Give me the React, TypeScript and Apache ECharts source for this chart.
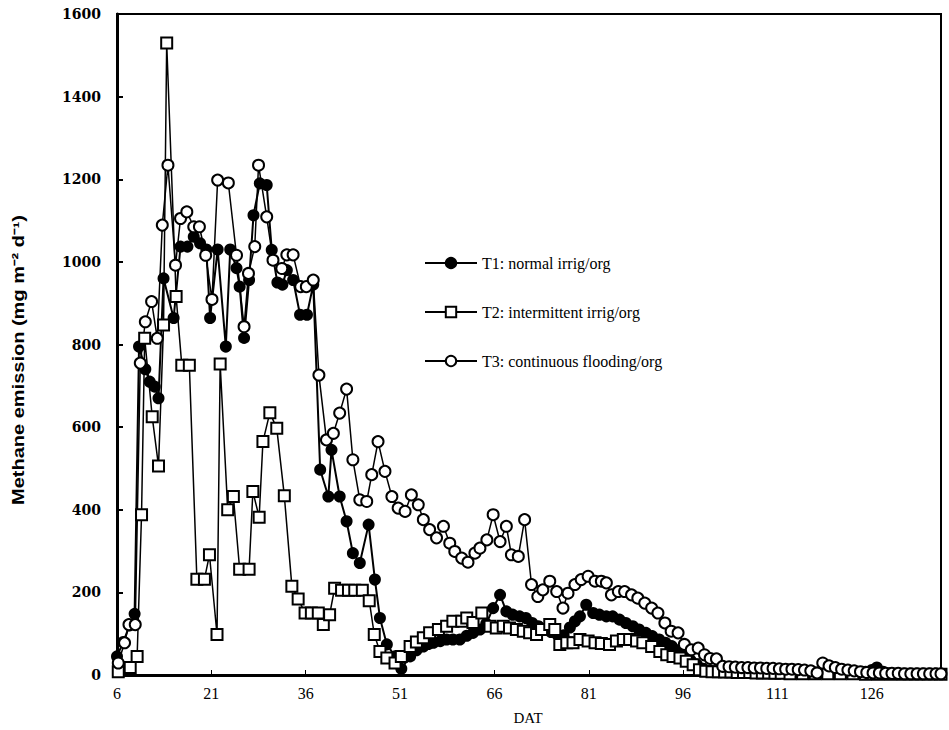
import React, { useEffect, useRef } from "react";
import * as echarts from "echarts";

// Days after transplanting (DAT) tick labels
const xTicks = [6, 21, 36, 51, 66, 81, 96, 111, 126];
const yTicks = [0, 200, 400, 600, 800, 1000, 1200, 1400, 1600];

const seriesNames = [
  "T1: normal irrig/org",
  "T2: intermittent irrig/org",
  "T3: continuous flooding/org",
];

// T1: normal irrig/org  [DAT, mg m-2 d-1]
const t1Data = [
  [6, 45], [7, 80], [8, 120], [8.8, 148], [9.5, 795], [10.5, 740], [11.2, 710], [12, 698],
  [12.6, 670], [13.4, 960], [15, 864], [16.1, 1037], [17.2, 1037], [18.2, 1061], [19.2, 1045],
  [20.2, 1030], [20.8, 864], [22, 1030], [23.3, 795], [24, 1030], [25, 985], [25.5, 940],
  [26.2, 816], [27, 956], [27.7, 1113], [28.7, 1190], [29.8, 1186], [30.6, 1029], [31.5, 950],
  [32.3, 945], [33, 980], [34, 956], [35.1, 872], [36.2, 872], [37.2, 945], [38.3, 497],
  [39.6, 432], [40.1, 545], [41.4, 432], [42.5, 372], [43.5, 295], [44.6, 271], [46, 364],
  [47, 231], [47.8, 138], [48.9, 74], [50.2, 45], [51.2, 15], [52.6, 45], [53.6, 60],
  [54.7, 69], [55.5, 75], [56.3, 78], [57.4, 82], [58.4, 86], [59.4, 86], [60.5, 86],
  [61.6, 95], [62.6, 102], [63.7, 110], [64.7, 124], [65.8, 162], [66.9, 194], [67.9, 154],
  [68.9, 146], [70, 142], [71, 138], [72, 126], [73, 118], [74, 110], [75, 104], [76, 98],
  [77, 96], [78, 115], [78.8, 130], [79.6, 142], [80.6, 170], [81.7, 150], [82.7, 146],
  [83.8, 142], [84.8, 142], [85.9, 134], [86.9, 126], [88, 118], [89, 110], [90.1, 102],
  [91.1, 94], [92.2, 86], [93.2, 78], [94.2, 70], [95.2, 60], [96.2, 48], [97.2, 35],
  [98.2, 25], [99.2, 15], [100.2, 10], [101, 8], [102, 7], [103, 7], [104, 6], [105, 6],
  [106, 6], [107, 5], [108, 5], [109, 5], [110, 5], [111, 5], [112, 4], [113, 4], [114, 4],
  [115, 4], [116, 4], [117, 4], [118, 5], [119, 5], [120, 5], [121, 5], [122, 5], [123, 5],
  [124, 6], [125, 8], [126, 12], [126.8, 18], [127.8, 8], [128.8, 4], [129.8, 3], [131, 3],
  [132, 3], [133, 3], [134, 3], [135, 3], [136, 3], [137, 3],
];

// T2: intermittent irrig/org
const t2Data = [
  [6.2, 8], [8.1, 18], [9.2, 45], [9.9, 388], [10.4, 815], [11.6, 625], [12.6, 506],
  [13.4, 847], [13.9, 1530], [15.4, 916], [16.3, 750], [17.5, 750], [18.7, 232], [19.9, 232],
  [20.7, 291], [21.9, 98], [22.4, 753], [23.6, 400], [24.5, 432], [25.5, 256], [27, 256],
  [27.6, 444], [28.6, 382], [29.2, 565], [30.3, 635], [31.4, 597], [32.6, 434], [33.8, 215],
  [34.8, 184], [35.9, 150], [36.9, 150], [38, 150], [38.8, 122], [39.8, 146], [40.6, 210],
  [41.7, 205], [42.8, 205], [43.8, 205], [45, 205], [46.1, 180], [46.9, 98], [47.8, 57],
  [48.9, 41], [50.2, 29], [51.2, 45], [52.6, 69], [53.6, 80], [54.7, 90], [55.7, 102],
  [57.1, 110], [58.4, 118], [59.4, 130], [60.8, 130], [61.6, 138], [62.6, 127], [64, 150],
  [65.3, 118], [66.3, 114], [67.4, 118], [68.4, 114], [69.5, 110], [70.6, 106], [71.6, 102],
  [72.7, 98], [73.5, 110], [74.8, 122], [75.6, 110], [76.4, 74], [77.5, 78], [78.5, 78],
  [79.6, 86], [80.9, 82], [82, 78], [83, 76], [84.3, 74], [85.4, 82], [86.5, 86], [87.5, 86],
  [88.6, 82], [89.6, 78], [91, 69], [92.3, 57], [93.4, 49], [94.4, 45], [95.5, 41],
  [96.5, 33], [97.6, 25], [98.6, 13], [99.6, 9], [100.6, 8], [101.6, 8], [102.6, 7],
  [103.6, 7], [104.6, 6], [105.6, 6], [106.6, 6], [107.6, 5], [108.6, 5], [109.6, 5],
  [110.6, 4], [111.6, 4], [113, 3], [115, 3], [117, 3], [119, 3], [121, 3], [123, 3],
  [125, 2], [127, 2], [129, 2], [131, 2], [133, 2], [135, 2], [137, 2],
];

// T3: continuous flooding/org
const t3Data = [
  [6.2, 29], [7.2, 78], [7.9, 122], [8.9, 122], [9.7, 755], [10.5, 855], [11.5, 904],
  [12.4, 815], [13.2, 1089], [14.1, 1234], [15.3, 992], [16.1, 1105], [17.1, 1121],
  [18.2, 1085], [19.1, 1085], [20.1, 1016], [21.1, 909], [22, 1198], [23.7, 1191],
  [25, 1016], [26.2, 843], [26.9, 972], [27.9, 1037], [28.5, 1234], [29.8, 1109],
  [30.8, 1004], [32.2, 984], [33, 1017], [34, 1017], [35.2, 940], [36.1, 940], [37.2, 956],
  [38.1, 726], [39.3, 569], [40.4, 585], [41.4, 634], [42.5, 692], [43.5, 521], [44.6, 424],
  [45.7, 420], [46.5, 485], [47.5, 565], [48.6, 493], [49.7, 432], [50.7, 404], [51.8, 396],
  [52.8, 436], [53.9, 412], [54.7, 376], [55.7, 352], [56.8, 332], [57.9, 360], [58.9, 319],
  [59.7, 299], [60.8, 283], [61.8, 273], [62.9, 295], [63.7, 307], [64.8, 327], [65.8, 388],
  [66.9, 323], [67.9, 360], [68.7, 291], [69.8, 287], [70.8, 376], [71.9, 219], [72.9, 190],
  [73.7, 206], [74.8, 227], [75.9, 202], [76.9, 162], [77.7, 198], [78.8, 219], [79.8, 231],
  [80.9, 239], [82, 227], [83, 227], [83.8, 223], [84.6, 194], [85.7, 202], [86.7, 202],
  [87.8, 194], [88.8, 186], [89.9, 174], [91, 162], [92, 150], [93.1, 126], [94.1, 106],
  [95.2, 102], [96.2, 74], [97.3, 61], [98.4, 65], [99.4, 49], [100.3, 40], [101.3, 39],
  [102.3, 21], [103.3, 20], [104.3, 19], [105.3, 18], [106.3, 18], [107.3, 17], [108.3, 17],
  [109.3, 16], [110.3, 16], [111.3, 15], [112.3, 14], [113.3, 14], [114.3, 13], [115.3, 12],
  [116.3, 10], [117.3, 5], [118.2, 29], [119.2, 22], [120.2, 18], [121.2, 14], [122.2, 12],
  [123.2, 10], [124.2, 8], [125.2, 6], [126.2, 5], [127.2, 5], [128.2, 4], [129.2, 4],
  [130.2, 4], [131.2, 3], [132.2, 3], [133.2, 3], [134.2, 3], [135.2, 3], [136.2, 3], [137, 3],
];

const serif = "'Liberation Serif', 'Times New Roman', serif";
const boldSerif = "'DejaVu Serif', 'Liberation Serif', serif";

export default function App() {
  const ref = useRef<HTMLDivElement>(null);
  useEffect(() => {
    if (!ref.current) return;
    const chart = echarts.init(ref.current, undefined, { renderer: "svg" });
    const mk = (name: string, data: number[][], symbol: string, filled: boolean, lw: number, size: number) => ({
      name,
      type: "line",
      data,
      symbol,
      symbolSize: size,
      showAllSymbol: true,
      clip: false,
      lineStyle: { color: "#000", width: lw },
      itemStyle: { color: filled ? "#000" : "#fff", borderColor: "#000", borderWidth: 2 },
      emphasis: { disabled: true },
    });
    chart.setOption({
      animation: false,
      backgroundColor: "#fff",
      grid: {
        left: 117, right: 8, top: 14, bottom: 55,
        show: true, borderColor: "#000", borderWidth: 2, backgroundColor: "transparent",
      },
      legend: {
        orient: "vertical",
        left: 424,
        top: 255,
        padding: 0,
        itemWidth: 52,
        itemHeight: 13,
        itemGap: 33,
        data: seriesNames,
        textStyle: { fontFamily: serif, fontSize: 16, color: "#000" },
      },
      xAxis: {
        type: "value",
        min: 6,
        max: 137,
        interval: 15,
        axisLine: { show: true, lineStyle: { color: "#000", width: 3 } },
        axisTick: { show: true, inside: true, length: 5, lineStyle: { color: "#000", width: 1 } },
        splitLine: { show: false },
        axisLabel: {
          showMaxLabel: false,
          margin: 10,
          fontFamily: serif,
          fontSize: 16,
          color: "#000",
          formatter: (v: number) => (xTicks.includes(v) ? String(v) : ""),
        },
      },
      yAxis: {
        type: "value",
        min: 0,
        max: 1600,
        interval: 200,
        axisLine: { show: true, lineStyle: { color: "#000", width: 3 } },
        axisTick: { show: true, inside: true, length: 6, lineStyle: { color: "#000", width: 2 } },
        splitLine: { show: false },
        axisLabel: {
          margin: 16,
          fontFamily: boldSerif,
          fontWeight: "bold",
          fontSize: 14,
          color: "#000",
          formatter: (v: number) => (yTicks.includes(v) ? String(v) : ""),
        },
      },
      graphic: [
        {
          type: "text",
          x: 19,
          y: 360,
          rotation: Math.PI / 2,
          scaleY: 0.8,
          style: {
            text: "Methane emission (mg m⁻² d⁻¹)",
            fontFamily: "'Liberation Sans', Arial, sans-serif",
            fontWeight: "bold",
            fontSize: 20,
            fill: "#000",
            textAlign: "center",
            textVerticalAlign: "middle",
          },
        },
        {
          type: "text",
          x: 528,
          y: 718,
          style: {
            text: "DAT",
            fontFamily: serif,
            fontSize: 15,
            fill: "#000",
            textAlign: "center",
            textVerticalAlign: "middle",
          },
        },
      ],
      series: [
        mk(seriesNames[0], t1Data, "circle", true, 2, 10),
        mk(seriesNames[1], t2Data, "rect", false, 1.5, 11),
        mk(seriesNames[2], t3Data, "circle", false, 1.5, 11),
      ],
    });
    return () => chart.dispose();
  }, []);
  return (
    <div
      ref={ref}
      style={{ position: "absolute", left: 0, top: 0, width: 949, height: 730 }}
    />
  );
}
